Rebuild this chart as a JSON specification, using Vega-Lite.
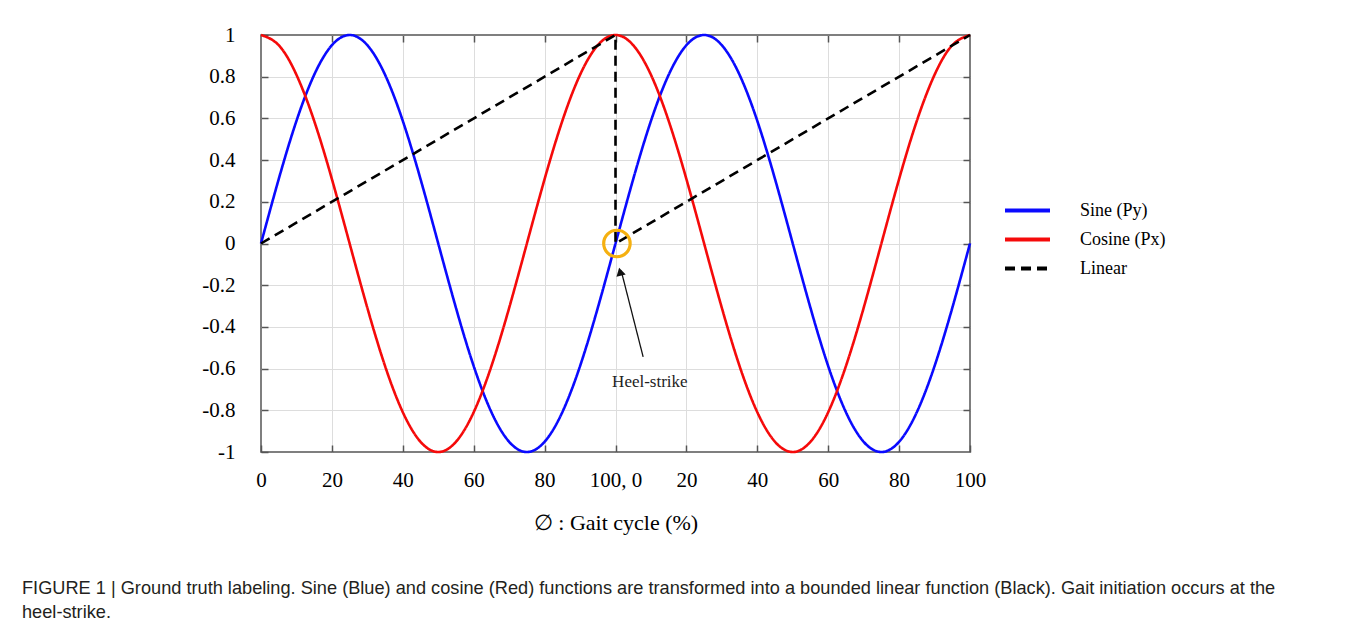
{
  "$schema": "https://vega.github.io/schema/vega-lite/v6.json",
  "width": 709,
  "height": 417,
  "autosize": {"type": "none"},
  "padding": {"left": 261, "top": 35, "right": 387, "bottom": 177},
  "background": "white",
  "config": {
    "view": {"stroke": "#555555", "strokeWidth": 1.5},
    "font": "Liberation Serif"
  },
  "title": {
    "text": [
      "FIGURE 1 | Ground truth labeling. Sine (Blue) and cosine (Red) functions are transformed into a bounded linear function (Black). Gait initiation occurs at the",
      "heel-strike."
    ],
    "orient": "bottom",
    "anchor": "start",
    "frame": "group",
    "dx": -239,
    "offset": 47,
    "font": "Liberation Sans",
    "fontSize": 18.2,
    "fontWeight": "normal",
    "color": "#231f20",
    "lineHeight": 24
  },
  "datasets": {
    "curves": [
      {"x": 0, "y": 0, "s": "Sine (Py)"}, {"x": 5, "y": 0.309, "s": "Sine (Py)"}, {"x": 10, "y": 0.588, "s": "Sine (Py)"}, {"x": 15, "y": 0.809, "s": "Sine (Py)"}, {"x": 20, "y": 0.951, "s": "Sine (Py)"}, {"x": 25, "y": 1, "s": "Sine (Py)"}, {"x": 30, "y": 0.951, "s": "Sine (Py)"}, {"x": 35, "y": 0.809, "s": "Sine (Py)"}, {"x": 40, "y": 0.588, "s": "Sine (Py)"}, {"x": 45, "y": 0.309, "s": "Sine (Py)"},
      {"x": 50, "y": 0, "s": "Sine (Py)"}, {"x": 55, "y": -0.309, "s": "Sine (Py)"}, {"x": 60, "y": -0.588, "s": "Sine (Py)"}, {"x": 65, "y": -0.809, "s": "Sine (Py)"}, {"x": 70, "y": -0.951, "s": "Sine (Py)"}, {"x": 75, "y": -1, "s": "Sine (Py)"}, {"x": 80, "y": -0.951, "s": "Sine (Py)"}, {"x": 85, "y": -0.809, "s": "Sine (Py)"}, {"x": 90, "y": -0.588, "s": "Sine (Py)"}, {"x": 95, "y": -0.309, "s": "Sine (Py)"},
      {"x": 100, "y": 0, "s": "Sine (Py)"}, {"x": 105, "y": 0.309, "s": "Sine (Py)"}, {"x": 110, "y": 0.588, "s": "Sine (Py)"}, {"x": 115, "y": 0.809, "s": "Sine (Py)"}, {"x": 120, "y": 0.951, "s": "Sine (Py)"}, {"x": 125, "y": 1, "s": "Sine (Py)"}, {"x": 130, "y": 0.951, "s": "Sine (Py)"}, {"x": 135, "y": 0.809, "s": "Sine (Py)"}, {"x": 140, "y": 0.588, "s": "Sine (Py)"}, {"x": 145, "y": 0.309, "s": "Sine (Py)"},
      {"x": 150, "y": 0, "s": "Sine (Py)"}, {"x": 155, "y": -0.309, "s": "Sine (Py)"}, {"x": 160, "y": -0.588, "s": "Sine (Py)"}, {"x": 165, "y": -0.809, "s": "Sine (Py)"}, {"x": 170, "y": -0.951, "s": "Sine (Py)"}, {"x": 175, "y": -1, "s": "Sine (Py)"}, {"x": 180, "y": -0.951, "s": "Sine (Py)"}, {"x": 185, "y": -0.809, "s": "Sine (Py)"}, {"x": 190, "y": -0.588, "s": "Sine (Py)"}, {"x": 195, "y": -0.309, "s": "Sine (Py)"}, {"x": 200, "y": 0, "s": "Sine (Py)"},
      {"x": 0, "y": 1, "s": "Cosine (Px)"}, {"x": 5, "y": 0.951, "s": "Cosine (Px)"}, {"x": 10, "y": 0.809, "s": "Cosine (Px)"}, {"x": 15, "y": 0.588, "s": "Cosine (Px)"}, {"x": 20, "y": 0.309, "s": "Cosine (Px)"}, {"x": 25, "y": 0, "s": "Cosine (Px)"}, {"x": 30, "y": -0.309, "s": "Cosine (Px)"}, {"x": 35, "y": -0.588, "s": "Cosine (Px)"}, {"x": 40, "y": -0.809, "s": "Cosine (Px)"}, {"x": 45, "y": -0.951, "s": "Cosine (Px)"},
      {"x": 50, "y": -1, "s": "Cosine (Px)"}, {"x": 55, "y": -0.951, "s": "Cosine (Px)"}, {"x": 60, "y": -0.809, "s": "Cosine (Px)"}, {"x": 65, "y": -0.588, "s": "Cosine (Px)"}, {"x": 70, "y": -0.309, "s": "Cosine (Px)"}, {"x": 75, "y": 0, "s": "Cosine (Px)"}, {"x": 80, "y": 0.309, "s": "Cosine (Px)"}, {"x": 85, "y": 0.588, "s": "Cosine (Px)"}, {"x": 90, "y": 0.809, "s": "Cosine (Px)"}, {"x": 95, "y": 0.951, "s": "Cosine (Px)"},
      {"x": 100, "y": 1, "s": "Cosine (Px)"}, {"x": 105, "y": 0.951, "s": "Cosine (Px)"}, {"x": 110, "y": 0.809, "s": "Cosine (Px)"}, {"x": 115, "y": 0.588, "s": "Cosine (Px)"}, {"x": 120, "y": 0.309, "s": "Cosine (Px)"}, {"x": 125, "y": 0, "s": "Cosine (Px)"}, {"x": 130, "y": -0.309, "s": "Cosine (Px)"}, {"x": 135, "y": -0.588, "s": "Cosine (Px)"}, {"x": 140, "y": -0.809, "s": "Cosine (Px)"}, {"x": 145, "y": -0.951, "s": "Cosine (Px)"},
      {"x": 150, "y": -1, "s": "Cosine (Px)"}, {"x": 155, "y": -0.951, "s": "Cosine (Px)"}, {"x": 160, "y": -0.809, "s": "Cosine (Px)"}, {"x": 165, "y": -0.588, "s": "Cosine (Px)"}, {"x": 170, "y": -0.309, "s": "Cosine (Px)"}, {"x": 175, "y": 0, "s": "Cosine (Px)"}, {"x": 180, "y": 0.309, "s": "Cosine (Px)"}, {"x": 185, "y": 0.588, "s": "Cosine (Px)"}, {"x": 190, "y": 0.809, "s": "Cosine (Px)"}, {"x": 195, "y": 0.951, "s": "Cosine (Px)"}, {"x": 200, "y": 1, "s": "Cosine (Px)"}
    ],
    "linear": [
      {"x": 0, "y": 0, "s": "Linear", "o": 0},
      {"x": 100, "y": 1, "s": "Linear", "o": 1},
      {"x": 100, "y": 0, "s": "Linear", "o": 2},
      {"x": 200, "y": 1, "s": "Linear", "o": 3}
    ],
    "circle": [{"x": 100.4, "y": 0}],
    "arrow": [{"x": 107.8, "y": -0.544, "x2": 101.6, "y2": -0.13}],
    "head": [{"x": 101.3, "y": -0.135}],
    "label": [{"x": 109.7, "y": -0.665, "t": "Heel-strike"}]
  },
  "layer": [
    {
      "data": {"name": "curves"},
      "mark": {"type": "line", "interpolate": "natural", "strokeWidth": 2.6},
      "encoding": {
        "x": {
          "field": "x", "type": "quantitative",
          "scale": {"domain": [0, 200], "nice": false, "zero": false},
          "axis": {
            "orient": "bottom",
            "values": [0, 20, 40, 60, 80, 100, 120, 140, 160, 180, 200],
            "labelExpr": "datum.value == 100 ? '100, 0' : (datum.value > 100 ? toString(datum.value - 100) : toString(datum.value))",
            "labelOverlap": false,
            "labelFlush": false,
            "grid": false,
            "domain": false,
            "tickSize": -7,
            "tickColor": "#555555",
            "tickWidth": 1.5,
            "labelFont": "Liberation Serif",
            "labelFontSize": 21,
            "labelColor": "#000000",
            "labelPadding": 24,
            "title": "∅ : Gait cycle (%)",
            "titleFont": "Liberation Serif",
            "titleFontSize": 22,
            "titleFontWeight": "normal",
            "titleColor": "#000000",
            "titlePadding": 22
          }
        },
        "y": {
          "field": "y", "type": "quantitative",
          "scale": {"domain": [-1, 1], "nice": false, "zero": false},
          "axis": {
            "orient": "left",
            "values": [-1, -0.8, -0.6, -0.4, -0.2, 0, 0.2, 0.4, 0.6, 0.8, 1],
            "labelExpr": "toString(round(datum.value * 10) / 10)",
            "labelOverlap": false,
            "labelFlush": false,
            "grid": false,
            "domain": false,
            "tickSize": -7,
            "tickColor": "#555555",
            "tickWidth": 1.5,
            "labelFont": "Liberation Serif",
            "labelFontSize": 21,
            "labelColor": "#000000",
            "labelPadding": 33,
            "title": null
          }
        },
        "color": {
          "field": "s", "type": "nominal",
          "scale": {"domain": ["Sine (Py)", "Cosine (Px)", "Linear"], "range": ["#0a0aff", "#f50a0a", "#000000"]},
          "legend": {
            "title": null,
            "orient": "none",
            "legendX": 753,
            "legendY": 162,
            "symbolType": "M-2,0H2",
            "symbolSize": 506,
            "symbolStrokeWidth": 4,
            "labelFont": "Liberation Serif",
            "labelFontSize": 18,
            "labelColor": "#000000",
            "labelOffset": 39,
            "rowPadding": 6,
            "labelLimit": 300
          }
        },
        "strokeDash": {
          "field": "s", "type": "nominal",
          "scale": {"domain": ["Sine (Py)", "Cosine (Px)", "Linear"], "range": [[1, 0], [1, 0], [10, 6]]},
          "legend": {
            "title": null,
            "orient": "none",
            "legendX": 753,
            "legendY": 162,
            "symbolType": "M-2,0H2",
            "symbolSize": 506,
            "symbolStrokeWidth": 4,
            "labelFont": "Liberation Serif",
            "labelFontSize": 18,
            "labelColor": "#000000",
            "labelOffset": 39,
            "rowPadding": 6,
            "labelLimit": 300
          }
        }
      }
    },
    {
      "data": {"name": "linear"},
      "mark": {"type": "line", "strokeWidth": 2.6},
      "encoding": {
        "x": {
          "field": "x", "type": "quantitative",
          "axis": {
            "orient": "top",
            "values": [20, 40, 60, 80, 100, 120, 140, 160, 180],
            "labels": false,
            "domain": false,
            "grid": true,
            "gridColor": "#dddddd",
            "gridWidth": 1,
            "tickSize": -7,
            "tickColor": "#555555",
            "tickWidth": 1.5,
            "title": null
          }
        },
        "y": {
          "field": "y", "type": "quantitative",
          "axis": {
            "orient": "right",
            "values": [-0.8, -0.6, -0.4, -0.2, 0, 0.2, 0.4, 0.6, 0.8],
            "labels": false,
            "domain": false,
            "grid": true,
            "gridColor": "#dddddd",
            "gridWidth": 1,
            "tickSize": -7,
            "tickColor": "#555555",
            "tickWidth": 1.5,
            "title": null
          }
        },
        "order": {"field": "o", "type": "quantitative"},
        "color": {"field": "s", "type": "nominal"},
        "strokeDash": {"field": "s", "type": "nominal"}
      }
    },
    {
      "data": {"name": "circle"},
      "mark": {"type": "point", "shape": "circle", "filled": false, "stroke": "#f5b010", "strokeWidth": 3.2, "size": 700, "opacity": 1},
      "encoding": {
        "x": {"field": "x", "type": "quantitative", "axis": null},
        "y": {"field": "y", "type": "quantitative", "axis": null}
      }
    },
    {
      "data": {"name": "arrow"},
      "mark": {"type": "rule", "color": "#111111", "strokeWidth": 1.3},
      "encoding": {
        "x": {"field": "x", "type": "quantitative", "axis": null},
        "y": {"field": "y", "type": "quantitative", "axis": null},
        "x2": {"field": "x2"},
        "y2": {"field": "y2"}
      }
    },
    {
      "data": {"name": "head"},
      "mark": {"type": "point", "shape": "triangle-up", "filled": true, "color": "#111111", "size": 90, "angle": 346, "opacity": 1},
      "encoding": {
        "x": {"field": "x", "type": "quantitative", "axis": null},
        "y": {"field": "y", "type": "quantitative", "axis": null}
      }
    },
    {
      "data": {"name": "label"},
      "mark": {"type": "text", "font": "Liberation Serif", "fontSize": 17, "color": "#222222", "align": "center", "baseline": "middle"},
      "encoding": {
        "x": {"field": "x", "type": "quantitative", "axis": null},
        "y": {"field": "y", "type": "quantitative", "axis": null},
        "text": {"field": "t"}
      }
    }
  ],
  "resolve": {"axis": {"x": "independent", "y": "independent"}}
}
